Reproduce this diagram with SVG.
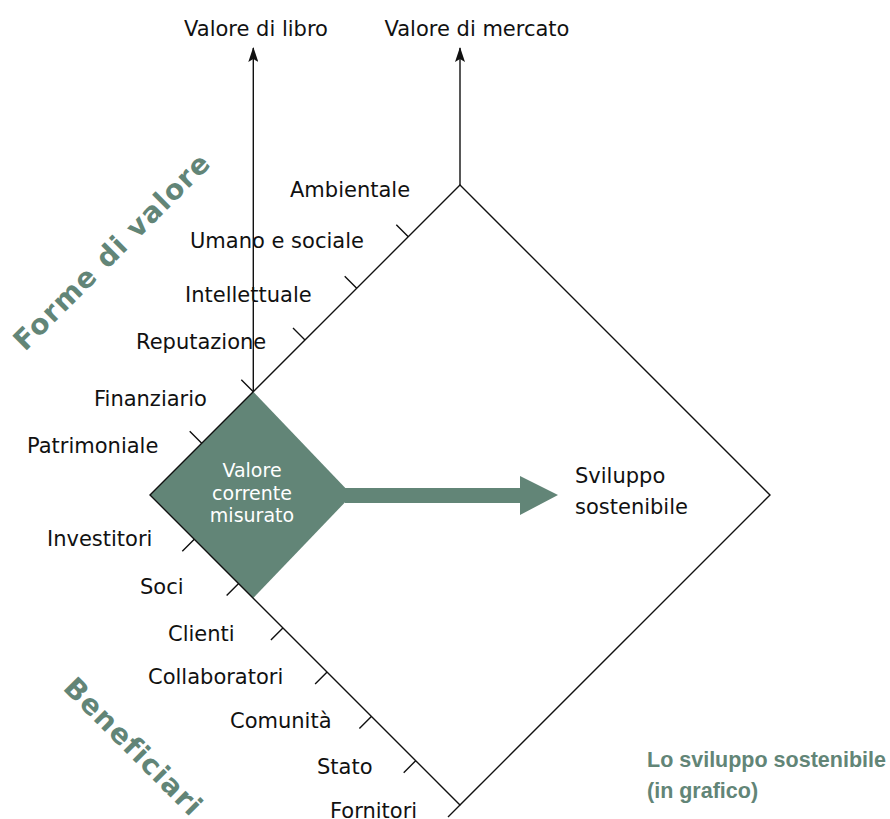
<svg xmlns="http://www.w3.org/2000/svg" width="890" height="819" viewBox="0 0 890 819">
  <style>
    .lbl { font-family: "DejaVu Sans", "Liberation Sans", sans-serif; font-size: 21px; fill: #111; }
    .inner { font-family: "DejaVu Sans", "Liberation Sans", sans-serif; font-size: 19px; fill: #fff; text-anchor: middle; }
    .axis { font-family: "DejaVu Sans", "Liberation Sans", sans-serif; font-size: 21px; fill: #111; text-anchor: middle; }
    .group { font-family: "DejaVu Sans", "Liberation Sans", sans-serif; font-size: 28px; font-weight: bold; fill: #628577; letter-spacing: 1.2px; }
    .caption { font-family: "Liberation Sans", "DejaVu Sans", sans-serif; font-size: 21.5px; font-weight: bold; fill: #628577; }
    .ln { stroke: #111; stroke-width: 1.4; fill: none; }
  </style>
  <defs>
    <marker id="tip" viewBox="0 0 16 10" refX="15" refY="5" markerWidth="16" markerHeight="10" markerUnits="userSpaceOnUse" orient="auto">
      <path d="M16 5 L1 0 L4 5 L1 10 Z" fill="#111"/>
    </marker>
  </defs>

  <rect width="890" height="819" fill="#fff"/>

  <!-- current measured value -->
  <g id="valore-corrente">
    <polygon points="150,495 253.3,391.7 352,495 253.3,598" fill="#628577"/>
    <text class="inner" x="252" y="477">Valore</text>
    <text class="inner" x="252" y="500">corrente</text>
    <text class="inner" x="252" y="522">misurato</text>
  </g>

  <!-- sustainable development -->
  <g id="sviluppo-sostenibile">
    <polygon points="460,185 770,495 460,805 150,495" class="ln"/>
    <text class="lbl" x="575" y="483">Sviluppo</text>
    <text class="lbl" x="575" y="514">sostenibile</text>
  </g>

  <g id="connectors">
    <!-- value axes -->
    <line class="ln" x1="253.3" y1="391.7" x2="253.3" y2="48" marker-end="url(#tip)"/>
    <line class="ln" x1="460" y1="185" x2="460" y2="48" marker-end="url(#tip)"/>
    <!-- growth arrow -->
    <polygon points="345,488 520,488 520,476 558,495 520,515 520,503 345,503" fill="#628577"/>
    <!-- ticks: forms of value -->
    <path class="ln" d="M201.7 443.3 l-12 -12 M253.3 391.7 l-12 -12 M305 340 l-12 -12 M356.7 288.3 l-12 -12 M408.3 236.7 l-12 -12"/>
    <!-- ticks: beneficiaries -->
    <path class="ln" d="M194.3 539.3 l-12 12 M238.6 583.6 l-12 12 M282.9 627.9 l-12 12 M327.1 672.1 l-12 12 M371.4 716.4 l-12 12 M415.7 760.7 l-12 12 M460 805 l-12 12"/>
  </g>

  <g id="assi">
    <text class="axis" x="256" y="36">Valore di libro</text>
    <text class="axis" x="477" y="36">Valore di mercato</text>
  </g>

  <g id="forme-di-valore">
    <text class="group" transform="translate(25,352) rotate(-45)">Forme di valore</text>
    <text class="lbl" x="290" y="197">Ambientale</text>
    <text class="lbl" x="190" y="248">Umano e sociale</text>
    <text class="lbl" x="185" y="302">Intellettuale</text>
    <text class="lbl" x="136" y="349">Reputazione</text>
    <text class="lbl" x="94" y="406">Finanziario</text>
    <text class="lbl" x="27" y="453">Patrimoniale</text>
  </g>

  <g id="beneficiari">
    <text class="group" transform="translate(62,689) rotate(45)">Beneficiari</text>
    <text class="lbl" x="47" y="546">Investitori</text>
    <text class="lbl" x="140" y="594">Soci</text>
    <text class="lbl" x="168" y="641">Clienti</text>
    <text class="lbl" x="148" y="684">Collaboratori</text>
    <text class="lbl" x="230" y="728">Comunità</text>
    <text class="lbl" x="317" y="774">Stato</text>
    <text class="lbl" x="330" y="818">Fornitori</text>
  </g>

  <g id="didascalia">
    <text class="caption" x="647" y="767">Lo sviluppo sostenibile</text>
    <text class="caption" x="647" y="798">(in grafico)</text>
  </g>
</svg>
